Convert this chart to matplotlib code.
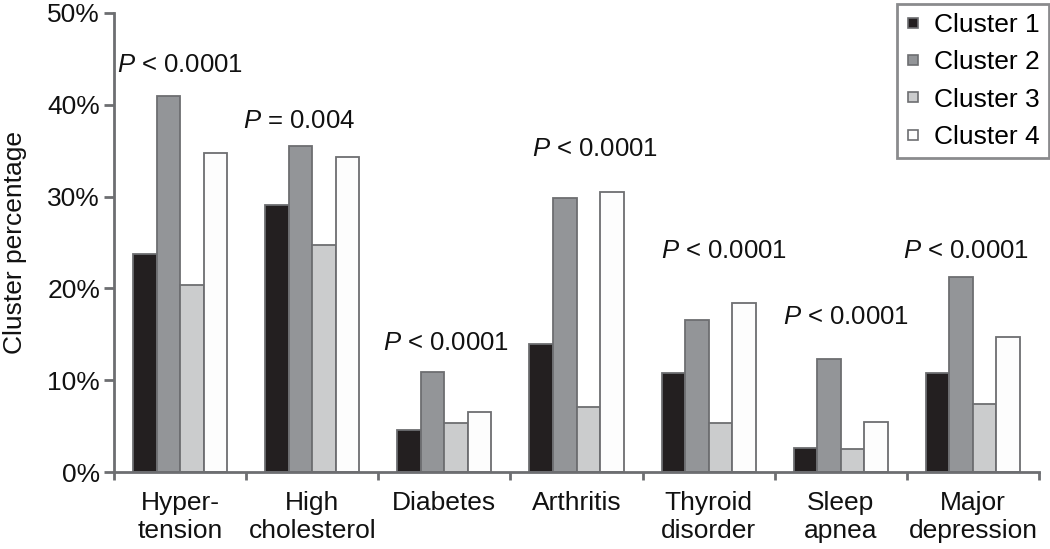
import matplotlib
matplotlib.use("Agg")
import matplotlib.pyplot as plt
from matplotlib.lines import Line2D
import numpy as np

categories = ["Hyper-\ntension", "High\ncholesterol", "Diabetes", "Arthritis",
              "Thyroid\ndisorder", "Sleep\napnea", "Major\ndepression"]
series_names = ["Cluster 1", "Cluster 2", "Cluster 3", "Cluster 4"]
cluster1 = [23.8, 29.1, 4.6, 13.9, 10.8, 2.6, 10.8]
cluster2 = [41.0, 35.5, 10.9, 29.8, 16.6, 12.3, 21.2]
cluster3 = [20.4, 24.7, 5.3, 7.1, 5.3, 2.5, 7.4]
cluster4 = [34.7, 34.3, 6.5, 30.5, 18.4, 5.4, 14.7]
p_labels = ["< 0.0001", "= 0.004", "< 0.0001", "< 0.0001", "< 0.0001", "< 0.0001", "< 0.0001"]
p_label_y = [43.6, 37.5, 13.3, 34.4, 23.3, 16.1, 23.3]
p_label_dx = [0.0, -0.10, 0.01, 0.14, 0.12, 0.04, -0.05]
yticks = [0, 10, 20, 30, 40, 50]

colors = ["#231f20", "#939598", "#cbcccd", "#fdfdfd"]
edge = "#6d6e71"
txt = "#111111"

plt.rcParams["font.family"] = ["Liberation Sans", "DejaVu Sans"]
plt.rcParams["mathtext.fontset"] = "custom"
plt.rcParams["mathtext.it"] = "Liberation Sans:italic"
plt.rcParams["mathtext.rm"] = "Liberation Sans"

fig = plt.figure(figsize=(10.5, 5.49), dpi=100)
ax = fig.add_axes([114 / 1050, 77 / 549, 925 / 1050, 459 / 549])

x = np.arange(len(categories))
w = 0.178
data = [cluster1, cluster2, cluster3, cluster4]
for i, (vals, c, name) in enumerate(zip(data, colors, series_names)):
    ax.bar(x + (i - 1.5) * w, vals, width=w, color=c, edgecolor=edge,
           linewidth=1.3, label=name, zorder=2)

for xi, lab, yy, dx in zip(x, p_labels, p_label_y, p_label_dx):
    ax.text(xi + dx, yy, "$P$ " + lab, ha="center", va="baseline",
            fontsize=18.5, color=txt)

ax.set_xlim(-0.5, len(categories) - 0.5)
ax.set_ylim(0, 50)
ax.set_yticks(yticks)
ax.set_yticklabels([f"{t}%" for t in yticks])
ax.set_xticks(np.arange(len(categories) + 1) - 0.5)
ax.set_xticklabels([])
ax.set_xticks(x, minor=True)
ax.set_xticklabels(categories, minor=True)
ax.tick_params(axis="x", which="minor", length=0, pad=14, labelsize=19, colors=txt)
ax.tick_params(axis="x", which="major", length=6, width=2, color=edge)
ax.tick_params(axis="y", length=7, width=2, color=edge, pad=3, labelsize=19,
               labelcolor=txt)
for s in ["top", "right"]:
    ax.spines[s].set_visible(False)
for s in ["left", "bottom"]:
    ax.spines[s].set_color(edge)
    ax.spines[s].set_linewidth(2)
ax.set_ylabel("Cluster percentage", fontsize=19, color=txt)
ax.yaxis.set_label_coords(-0.094, 0.5)

handles = [Line2D([], [], marker="s", linestyle="none", markersize=7.5,
                  markerfacecolor=c, markeredgecolor=edge, markeredgewidth=1.2)
           for c in colors]
leg = fig.legend(handles=handles, labels=series_names, loc="upper right",
                 bbox_to_anchor=(1049 / 1050, 1 - 4 / 549), borderaxespad=0,
                 fontsize=19, frameon=True, fancybox=False, handlelength=0.5,
                 handletextpad=0.55, labelspacing=0.5,
                 borderpad=0.35)
leg.get_frame().set_edgecolor(edge)
leg.get_frame().set_linewidth(2)

fig.savefig("out.png", dpi=100)
